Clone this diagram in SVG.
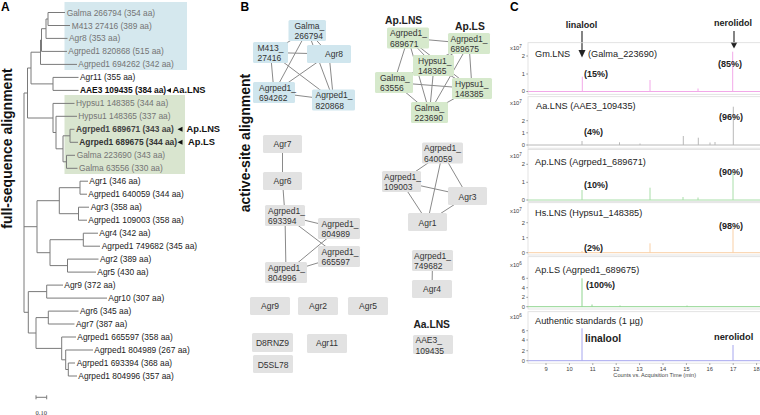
<svg xmlns="http://www.w3.org/2000/svg" width="760" height="415" viewBox="0 0 760 415">
<style>
text{font-family:"Liberation Sans",Arial,Helvetica,sans-serif}
.pl{font-size:12px;font-weight:bold;fill:#000}
.vt{font-size:14px;font-weight:bold;fill:#111;text-anchor:middle}
.tl{font-size:8.4px;fill:#222}
.gr{fill:#747474}
.bd{font-weight:bold}
.tree{fill:none;stroke:#7a7a7a;stroke-width:1}
.nl{font-size:8.5px;fill:#333}
.nc{text-anchor:middle}
.blue rect{fill:#d0e6ee}
.green rect{fill:#d6e9cc}
.gray rect{fill:#e2e2e2}
.edge{stroke:#8a8a8a;stroke-width:1;fill:none}
.hd{font-size:10.3px;font-weight:bold;fill:#222}
.ct{font-size:9.2px;fill:#222}
.pc{font-size:9px;font-weight:bold;fill:#222}
.ax{font-size:5.8px;fill:#444}
.axe{font-size:5.8px;fill:#444;text-anchor:end}
.axm{font-size:5.8px;fill:#444;text-anchor:middle}
.frame{fill:none;stroke:#dcdcdc;stroke-width:0.8}
.tick{stroke:#666;stroke-width:0.6}
.tr{fill:none;stroke-width:1}
</style>

<!-- Panel labels -->
<text class="pl" x="1" y="11">A</text>
<text class="pl" x="240.5" y="11">B</text>
<text class="pl" x="510" y="11">C</text>

<!-- ================= Panel A ================= -->
<rect x="64.5" y="2" width="122.5" height="68" fill="#d5e8ee"/>
<rect x="64.5" y="95" width="120.5" height="79" fill="#d9e5cf"/>
<text class="vt" transform="translate(12,148.5) rotate(-90)">full-sequence alignment</text>

<g id="tree-connectors">
<path class="tree" d="M48 12.5V25.5M48 12.5H65M48 25.5H70
M46 19V38.4M46 19H48M46 38.4H67.5
M41.5 28.7V51.4M41.5 28.7H46M41.5 51.4H67
M40.5 40V64.4M40.5 40H41.5M40.5 64.4H77
M53 77.4V90.4M53 77.4H78.5M53 90.4H78.5
M31 52.2V83.9M31 52.2H40.5M31 83.9H53
M70 129.3V142.3M70 129.3H74.5M70 142.3H78
M66.5 155.3V168.3M66.5 155.3H75M66.5 168.3H77.5
M63 135.8V161.8M63 135.8H70M63 161.8H66.5
M56 116.3V148.8M56 116.3H77M56 148.8H63
M53 103.4V132.5M53 103.4H74.5M53 132.5H56
M27.5 68V118M27.5 68H31M27.5 118H53
M24 93V312.3M24 93H27.5M24 226.7H37M24 312.3H28.3
M80 181.2V194.2M80 181.2H88M80 194.2H87
M78.5 207.2V220.2M78.5 207.2H89M78.5 220.2H87
M59.3 187.7V213.7M59.3 187.7H80M59.3 213.7H78.5
M83.3 233.2V246.2M83.3 233.2H98M83.3 246.2H100
M67.5 259.1V272.1M67.5 259.1H98.5M67.5 272.1H96
M50 239.7V265.6M50 239.7H83.3M50 265.6H67.5
M37 200.7V252.7M37 200.7H59.3M37 252.7H50
M46.7 285.1V298.1M46.7 285.1H63M46.7 298.1H107
M48.3 311.1V324M48.3 311.1H78.5M48.3 324H74.5
M68.3 363V376M68.3 363H75M68.3 376H77
M65.7 350V369.5M65.7 350H93M65.7 369.5H68.3
M61.7 337V359.8M61.7 337H76M61.7 359.8H65.7
M36 317.6V348.4M36 317.6H48.3M36 348.4H61.7
M28.3 291.6V333M28.3 291.6H46.7M28.3 333H36"/>
<path class="tree" stroke="#333" d="M36 397.3H46.7M36 395.3V399.3M46.7 395.3V399.3"/>
</g>
<text x="41.3" y="414.5" font-size="6.5" text-anchor="middle" fill="#333" style="font-family:'Liberation Serif',serif">0.10</text>

<g id="leaf-Galma266794"><text class="tl gr" x="66.7" y="15.5">Galma 266794 (354 aa)</text></g>
<g id="leaf-M41327416"><text class="tl gr" x="71.7" y="28.5">M413 27416 (389 aa)</text></g>
<g id="leaf-Agr8"><text class="tl gr" x="69" y="41.4">Agr8 (353 aa)</text></g>
<g id="leaf-Agrped1-820868"><text class="tl gr" x="68.3" y="54.4">Agrped1 820868 (515 aa)</text></g>
<g id="leaf-Agrped1-694262"><text class="tl gr" x="78.3" y="67.4">Agrped1 694262 (342 aa)</text></g>
<g id="leaf-Agr11"><text class="tl" x="80" y="80.4" fill="#111">Agr11 (355 aa)</text></g>
<g id="leaf-AAE3"><text class="tl bd" x="80" y="93.4" style="fill:#111">AAE3 109435 (384 aa)</text>
<polygon points="166.5,90.4 171,88 171,92.8" fill="#111"/>
<text class="tl bd" x="172.5" y="93.4" style="font-size:9.3px;fill:#111">Aa.LNS</text></g>
<g id="leaf-Hypsu1-148385"><text class="tl gr" x="76" y="106.4">Hypsu1 148385 (344 aa)</text></g>
<g id="leaf-Hypsu1-148365"><text class="tl gr" x="78.3" y="119.3">Hypsu1 148365 (337 aa)</text></g>
<g id="leaf-Agrped1-689671"><text class="tl bd" x="76" y="132.3" style="fill:#444">Agrped1 689671 (343 aa)</text>
<polygon points="177.5,129.3 182.5,126.8 182.5,131.8" fill="#111"/>
<text class="tl bd" x="186.5" y="132.3" style="font-size:9.3px;fill:#111">Ap.LNS</text></g>
<g id="leaf-Agrped1-689675"><text class="tl bd" x="79.3" y="145.3" style="fill:#333">Agrped1 689675 (344 aa)</text>
<polygon points="177.5,142.3 182.5,139.8 182.5,144.8" fill="#111"/>
<text class="tl bd" x="188" y="145.3" style="font-size:9.3px;fill:#111">Ap.LS</text></g>
<g id="leaf-Galma223690"><text class="tl gr" x="76.7" y="158.3">Galma 223690 (343 aa)</text></g>
<g id="leaf-Galma63556"><text class="tl gr" x="79" y="171.3">Galma 63556 (330 aa)</text></g>
<g id="leaf-Agr1"><text class="tl" x="89.3" y="184.2">Agr1 (346 aa)</text></g>
<g id="leaf-Agrped1-640059"><text class="tl" x="88.3" y="197.2">Agrped1 640059 (344 aa)</text></g>
<g id="leaf-Agr3"><text class="tl" x="90.7" y="210.2">Agr3 (358 aa)</text></g>
<g id="leaf-Agrped1-109003"><text class="tl" x="88.3" y="223.2">Agrped1 109003 (358 aa)</text></g>
<g id="leaf-Agr4"><text class="tl" x="99.3" y="236.2">Agr4 (342 aa)</text></g>
<g id="leaf-Agrped1-749682"><text class="tl" x="101.7" y="249.2">Agrped1 749682 (345 aa)</text></g>
<g id="leaf-Agr2"><text class="tl" x="100" y="262.1">Agr2 (389 aa)</text></g>
<g id="leaf-Agr5"><text class="tl" x="97.3" y="275.1">Agr5 (430 aa)</text></g>
<g id="leaf-Agr9"><text class="tl" x="64.3" y="288.1">Agr9 (372 aa)</text></g>
<g id="leaf-Agr10"><text class="tl" x="108.3" y="301.1">Agr10 (307 aa)</text></g>
<g id="leaf-Agr6"><text class="tl" x="80" y="314.1">Agr6 (345 aa)</text></g>
<g id="leaf-Agr7"><text class="tl" x="76" y="327">Agr7 (387 aa)</text></g>
<g id="leaf-Agrped1-665597"><text class="tl" x="77.3" y="340">Agrped1 665597 (358 aa)</text></g>
<g id="leaf-Agrped1-804989"><text class="tl" x="94.3" y="353">Agrped1 804989 (267 aa)</text></g>
<g id="leaf-Agrped1-693394"><text class="tl" x="76.7" y="366">Agrped1 693394 (368 aa)</text></g>
<g id="leaf-Agrped1-804996"><text class="tl" x="78.3" y="379">Agrped1 804996 (357 aa)</text></g>

<!-- ================= Panel B ================= -->
<text class="vt" transform="translate(249.5,143) rotate(-90)">active-site alignment</text>

<g id="network-edges">
<path class="edge" d="M307.5 30.5L270.5 52.5M307.5 30.5L329 54M307.5 30.5L274 92.5M307.5 30.5L333.5 100M270.5 52.5L329 54M270.5 52.5L274 92.5M270.5 52.5L333.5 100M329 54L274 92.5M329 54L333.5 100M274 92.5L333.5 100"/>
<path class="edge" d="M408 38L469 43.5M408 38L434 65.5M408 38L394 82.5M408 38L472 88.5M408 38L429.5 112.5M469 43.5L434 65.5M469 43.5L394 82.5M469 43.5L472 88.5M469 43.5L429.5 112.5M434 65.5L394 82.5M434 65.5L472 88.5M434 65.5L429.5 112.5M394 82.5L472 88.5M394 82.5L429.5 112.5M472 88.5L429.5 112.5"/>
<path class="edge" d="M282.5 144L282.5 181M282.5 181L285 215.5M285 215.5L339 228.5M285 215.5L339 256.5M285 215.5L286 272.5M286 272.5L339 228.5M286 272.5L339 256.5"/>
<path class="edge" d="M442.5 153L401 181.5M442.5 153L467.5 196M442.5 153L427.5 222M401 181.5L467.5 196M401 181.5L427.5 222M467.5 196L427.5 222M432.5 260.5L432 289"/>
</g>

<g class="blue">
<g id="n-Galma_266794"><rect x="288.5" y="20" width="37.5" height="21" rx="1.5"/><text class="nl" x="294.5" y="28.5">Galma_</text><text class="nl" x="294.5" y="39">266794</text></g>
<g id="n-M413_27416"><rect x="253" y="42" width="35" height="21" rx="1.5"/><text class="nl" x="257.5" y="50.5">M413_</text><text class="nl" x="257.5" y="61">27416</text></g>
<g id="n-Agr8"><rect x="307" y="45" width="44" height="18" rx="1.5"/><text class="nl nc" x="334" y="57">Agr8</text></g>
<g id="n-Agrped1_694262"><rect x="253" y="82" width="42" height="21" rx="1.5"/><text class="nl" x="259" y="90.5">Agrped1_</text><text class="nl" x="259" y="101">694262</text></g>
<g id="n-Agrped1_820868"><rect x="312" y="89.5" width="43" height="21" rx="1.5"/><text class="nl" x="315.5" y="98">Agrped1_</text><text class="nl" x="315.5" y="108.5">820868</text></g>
</g>

<text class="hd" x="385" y="23.5">Ap.LNS</text>
<text class="hd" x="455" y="30">Ap.LS</text>
<g class="green">
<g id="n-Agrped1_689671"><rect x="387" y="27.5" width="42" height="21" rx="1.5"/><text class="nl" x="390" y="36">Agrped1_</text><text class="nl" x="390" y="46.5">689671</text></g>
<g id="n-Agrped1_689675"><rect x="448" y="33" width="42" height="21" rx="1.5"/><text class="nl" x="450.5" y="41.5">Agrped1_</text><text class="nl" x="450.5" y="52">689675</text></g>
<g id="n-Hypsu1_148365"><rect x="413" y="55" width="41" height="21" rx="1.5"/><text class="nl" x="418" y="63.5">Hypsu1_</text><text class="nl" x="418" y="74">148365</text></g>
<g id="n-Galma_63556"><rect x="375" y="72" width="38" height="21" rx="1.5"/><text class="nl" x="380" y="80.5">Galma_</text><text class="nl" x="380" y="91">63556</text></g>
<g id="n-Hypsu1_148385"><rect x="452" y="78" width="40" height="21" rx="1.5"/><text class="nl" x="455" y="86.5">Hypsu1_</text><text class="nl" x="455" y="97">148385</text></g>
<g id="n-Galma_223690"><rect x="411" y="102" width="37" height="21" rx="1.5"/><text class="nl" x="414.5" y="110.5">Galma_</text><text class="nl" x="414.5" y="121">223690</text></g>
</g>

<g class="gray">
<g id="n-Agr7"><rect x="263" y="135" width="39" height="18" rx="1.5"/><text class="nl nc" x="282.5" y="147">Agr7</text></g>
<g id="n-Agr6"><rect x="263" y="172" width="39" height="18" rx="1.5"/><text class="nl nc" x="282.5" y="184">Agr6</text></g>
<g id="n-Agrped1_693394"><rect x="265" y="205" width="40" height="21" rx="1.5"/><text class="nl" x="268" y="213.5">Agrped1_</text><text class="nl" x="268" y="224">693394</text></g>
<g id="n-Agrped1_804989"><rect x="318" y="218" width="42" height="21" rx="1.5"/><text class="nl" x="321.5" y="226.5">Agrped1_</text><text class="nl" x="321.5" y="237">804989</text></g>
<g id="n-Agrped1_665597"><rect x="318" y="246" width="42" height="21" rx="1.5"/><text class="nl" x="321.5" y="254.5">Agrped1_</text><text class="nl" x="321.5" y="265">665597</text></g>
<g id="n-Agrped1_804996"><rect x="265" y="262" width="42" height="21" rx="1.5"/><text class="nl" x="268" y="270.5">Agrped1_</text><text class="nl" x="268" y="281">804996</text></g>
<g id="n-Agrped1_640059"><rect x="422" y="142.5" width="41" height="21" rx="1.5"/><text class="nl" x="424" y="151">Agrped1_</text><text class="nl" x="424" y="161.5">640059</text></g>
<g id="n-Agrped1_109003"><rect x="382" y="171" width="39" height="21" rx="1.5"/><text class="nl" x="384" y="179.5">Agrped1_</text><text class="nl" x="384" y="190">109003</text></g>
<g id="n-Agr3"><rect x="448" y="187" width="39" height="18" rx="1.5"/><text class="nl nc" x="467.5" y="199.5">Agr3</text></g>
<g id="n-Agr1"><rect x="408" y="213" width="39" height="18" rx="1.5"/><text class="nl nc" x="427.5" y="225.5">Agr1</text></g>
<g id="n-Agrped1_749682"><rect x="412" y="250" width="41" height="21" rx="1.5"/><text class="nl" x="414" y="258.5">Agrped1_</text><text class="nl" x="414" y="269">749682</text></g>
<g id="n-Agr4"><rect x="412" y="280" width="40" height="18" rx="1.5"/><text class="nl nc" x="432" y="292">Agr4</text></g>
<g id="n-Agr9"><rect x="250" y="297" width="40" height="18" rx="1.5"/><text class="nl nc" x="270" y="309">Agr9</text></g>
<g id="n-Agr2"><rect x="298" y="297" width="40" height="18" rx="1.5"/><text class="nl nc" x="318" y="309">Agr2</text></g>
<g id="n-Agr5"><rect x="348" y="297" width="40" height="18" rx="1.5"/><text class="nl nc" x="368" y="309">Agr5</text></g>
<g id="n-D8RNZ9"><rect x="252" y="333" width="41" height="19" rx="1.5"/><text class="nl nc" x="272.5" y="346">D8RNZ9</text></g>
<g id="n-Agr11"><rect x="307" y="334" width="40" height="19" rx="1.5"/><text class="nl nc" x="327" y="346">Agr11</text></g>
<g id="n-D5SL78"><rect x="253" y="355" width="40" height="18" rx="1.5"/><text class="nl nc" x="273" y="367.5">D5SL78</text></g>
<g id="n-AAE3_109435"><rect x="413" y="335" width="40" height="19" rx="1.5"/><text class="nl" x="415.5" y="343">AAE3_</text><text class="nl" x="415.5" y="353.5">109435</text></g>
</g>
<text class="hd" x="431.7" y="327.5" style="text-anchor:middle">Aa.LNS</text>

<!-- ================= Panel C ================= -->
<g id="arrows">
<text class="pc" x="581.5" y="28" text-anchor="middle">linalool</text>
<text class="pc" x="733" y="26" text-anchor="middle">nerolidol</text>
<path d="M582 31V51M734 31V43" stroke="#222" stroke-width="1.1"/>
<polygon points="578.5,50 585.5,50 582,57.5" fill="#222"/>
<polygon points="730.5,42 737.5,42 734,48.5" fill="#222"/>
</g>

<g id="frames">
<rect class="frame" x="528" y="42.7" width="240" height="51.6"/>
<rect class="frame" x="528" y="96.7" width="240" height="51.5"/>
<rect class="frame" x="528" y="149.5" width="240" height="51.8"/>
<rect class="frame" x="528" y="202.7" width="240" height="52.3"/>
<rect class="frame" x="528" y="256.7" width="240" height="52.3"/>
<rect class="frame" x="528" y="311.7" width="240" height="51.5"/>
</g>

<g id="traces">
<path class="tr" stroke="#f2a8e8" d="M528 91.5H760M582.3 91.5V76.7M650 91.5V80M698 91.5V88.5M732.7 91.5V51.7"/>
<path class="tr" stroke="#b8b8b8" d="M528 145H760M582 145V141M619.5 145V142.3M640 145V143.5M683.3 145V136M698.3 145V137.7M710 145V142.5M715 145V142M733.3 145V106.7"/>
<path class="tr" stroke="#a8dea8" d="M528 200H760M582 200V190M650 200V187.7M683 200V197M698 200V197.5M733 200V172"/>
<path class="tr" stroke="#f9cfa5" d="M528 252.7H760M582 252.7V251M650 252.7V243.3M733 252.7V226.7"/>
<path class="tr" stroke="#8fd48f" d="M528 306.7H760M582 306.7V278.3M592 306.7V304.5M620 306.7V305.5M687 306.7V305.6"/>
<path class="tr" stroke="#a6a6ee" d="M528 360.7H760M582 360.7V328.3M733 360.7V345"/>
</g>

<g id="axes">
<path class="tick" d="M526.3 56H528M526.3 74H528M526.3 91.5H528
M526.3 120.7H528M526.3 132.8H528M526.3 145H528
M526.3 164.3H528M526.3 182.3H528M526.3 200H528
M526.3 222.7H528M526.3 237.7H528M526.3 252.7H528
M526.3 278.3H528M526.3 287.7H528M526.3 297.3H528M526.3 306.7H528
M526.3 330.7H528M526.3 340H528M526.3 350.7H528M526.3 360.7H528
M546 363.2V365M569.4 363.2V365M592.8 363.2V365M616.2 363.2V365M639.6 363.2V365M663 363.2V365M686.4 363.2V365M709.8 363.2V365M733.2 363.2V365M756.6 363.2V365"/>
<text class="ax" x="510" y="50">x10<tspan dy="-2" font-size="4.5">7</tspan></text>
<text class="ax" x="510" y="105">x10<tspan dy="-2" font-size="4.5">7</tspan></text>
<text class="ax" x="510" y="158">x10<tspan dy="-2" font-size="4.5">7</tspan></text>
<text class="ax" x="510" y="212.5">x10<tspan dy="-2" font-size="4.5">7</tspan></text>
<text class="ax" x="510" y="267">x10<tspan dy="-2" font-size="4.5">6</tspan></text>
<text class="ax" x="510" y="319">x10<tspan dy="-2" font-size="4.5">6</tspan></text>
<text class="axe" x="525" y="58">2</text><text class="axe" x="525" y="76">1</text><text class="axe" x="525" y="93">0</text>
<text class="axe" x="525" y="122.7">2</text><text class="axe" x="525" y="134.8">1</text><text class="axe" x="525" y="147">0</text>
<text class="axe" x="525" y="166.3">2</text><text class="axe" x="525" y="184.3">1</text><text class="axe" x="525" y="202">0</text>
<text class="axe" x="525" y="224.7">2</text><text class="axe" x="525" y="239.7">1</text><text class="axe" x="525" y="254.7">0</text>
<text class="axe" x="525" y="280.3">6</text><text class="axe" x="525" y="289.7">4</text><text class="axe" x="525" y="299.3">2</text><text class="axe" x="525" y="308.7">0</text>
<text class="axe" x="525" y="332.7">6</text><text class="axe" x="525" y="342">4</text><text class="axe" x="525" y="352.7">2</text><text class="axe" x="525" y="362.7">0</text>
<text class="axm" x="546" y="370.5">9</text><text class="axm" x="569.4" y="370.5">10</text><text class="axm" x="592.8" y="370.5">11</text><text class="axm" x="616.2" y="370.5">12</text><text class="axm" x="639.6" y="370.5">13</text><text class="axm" x="663" y="370.5">14</text><text class="axm" x="686.4" y="370.5">15</text><text class="axm" x="709.8" y="370.5">16</text><text class="axm" x="733.2" y="370.5">17</text><text class="axm" x="756.6" y="370.5">18</text>
<text class="axm" x="654.7" y="377" style="font-size:5.6px">Counts vs. Acquisition Time (min)</text>
</g>

<g id="chrom-labels">
<text class="ct" x="535" y="56.5">Gm.LNS</text><text class="ct" x="588" y="56.5">(Galma_223690)</text>
<text class="pc" x="584" y="77">(15%)</text><text class="pc" x="718" y="66.5">(85%)</text>
<text class="ct" x="536" y="109">Aa.LNS (AAE3_109435)</text>
<text class="pc" x="584" y="135">(4%)</text><text class="pc" x="719" y="120">(96%)</text>
<text class="ct" x="535" y="165">Ap.LNS (Agrped1_689671)</text>
<text class="pc" x="584" y="188">(10%)</text><text class="pc" x="719" y="175">(90%)</text>
<text class="ct" x="535" y="216">Hs.LNS (Hypsu1_148385)</text>
<text class="pc" x="584" y="250.5">(2%)</text><text class="pc" x="719" y="229">(98%)</text>
<text class="ct" x="535" y="273">Ap.LS (Agrped1_689675)</text>
<text class="pc" x="586" y="287.5">(100%)</text>
<text class="ct" x="535" y="323.5">Authentic standards (1 µg)</text>
<text class="pc" x="585" y="342" style="font-size:10.3px">linalool</text>
<text class="pc" x="714" y="339.5" style="font-size:9.3px">nerolidol</text>
</g>
</svg>
